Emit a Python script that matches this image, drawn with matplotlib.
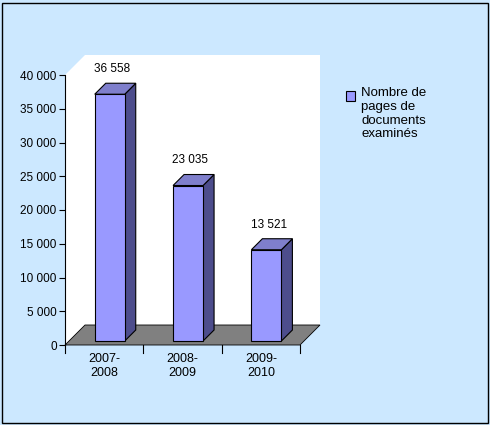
import matplotlib
matplotlib.use('Agg')
import matplotlib.pyplot as plt
from matplotlib.patches import Polygon, Rectangle

plt.rcParams['font.family'] = ['Liberation Sans', 'DejaVu Sans']

periodes = ['2007-\n2008', '2008-\n2009', '2009-\n2010']
pages = [36558, 23035, 13521]
serie = 'Nombre de\npages de\ndocuments\nexaminés'

W, H = 490, 425
fig = plt.figure(figsize=(W / 100, H / 100), dpi=100, facecolor='#CCE8FF')
fig.patches.append(Rectangle((0.004, 0.004), 0.992, 0.99, transform=fig.transFigure,
                             fill=False, edgecolor='black', linewidth=1))

# axes: x from 65 to 300 px, y from 345 (0) to 75 (40000)
ax = fig.add_axes([65 / W, (H - 345) / H, 235 / W, 270 / H])
ax.set_xlim(-0.5, 2.5)
ax.set_ylim(0, 40000)
ax.patch.set_visible(False)
for s in ax.spines.values():
    s.set_visible(False)

xpx = 3 / 235          # data units per pixel in x
ypx = 40000 / 270      # data units per pixel in y
dx, dy = 20 * xpx, 20 * ypx   # depth of the wall/floor

x0, x1 = -0.5, 2.5
wall = Polygon([(x0, 0), (x0, 40000), (x0 + dx, 40000 + dy), (x1 + dx, 40000 + dy),
                (x1 + dx, dy), (x1, 0)], closed=True, facecolor='white',
               edgecolor='none', clip_on=False, zorder=0)
ax.add_patch(wall)
floor = Polygon([(x0, 0), (x0 + dx, dy), (x1 + dx, dy), (x1, 0)], closed=True,
                facecolor='#808080', edgecolor='black', linewidth=0.6, clip_on=False, zorder=1)
ax.add_patch(floor)
ax.plot([x0, x0], [0, 40000], color='black', lw=0.8, clip_on=False, zorder=2)

bw = 30 * xpx
bx, by = 11 * xpx, 11 * ypx
ox, oy = 4 * xpx, 4 * ypx      # bars stand a little back on the floor
for i, v in enumerate(pages):
    l, r = i - bw / 2 + 0.02 + ox, i + bw / 2 + 0.02 + ox
    b, t = oy, v + oy
    kw = dict(closed=True, edgecolor='black', linewidth=0.8, clip_on=False, zorder=3)
    ax.add_patch(Polygon([(r, b), (r + bx, b + by), (r + bx, t + by), (r, t)], facecolor='#4D4D8C', **kw))
    ax.add_patch(Polygon([(l, t), (l + bx, t + by), (r + bx, t + by), (r, t)], facecolor='#7F7FCC', **kw))
    ax.add_patch(Polygon([(l, b), (r, b), (r, t), (l, t)], facecolor='#9999FF', **kw))
    ax.text(i + 0.1, t + by + 1200, f'{v:,}'.replace(',', ' '), ha='center', va='bottom', fontsize=8.5)

ax.set_yticks(range(0, 40001, 5000))
ax.set_yticklabels([f'{t:,}'.replace(',', ' ') for t in range(0, 40001, 5000)], fontsize=8.5)
ax.tick_params(axis='y', length=4, direction='out', pad=2)
ax.set_xticks(range(3))
ax.set_xticklabels(periodes, fontsize=9)
ax.tick_params(axis='x', length=0, pad=6)
for t in [-0.5, 0.5, 1.5, 2.5]:
    ax.plot([t, t], [0, -1200], color='black', lw=0.8, clip_on=False)

fig.patches.append(Rectangle((346 / W, 1 - 101 / H), 9 / W, 10 / H, transform=fig.transFigure,
                             facecolor='#9999FF', edgecolor='black', linewidth=0.8))
fig.text(361 / W, 1 - 87 / H, serie, fontsize=9.5, va='top', ha='left', linespacing=1.2)

fig.savefig('out.png', dpi=100, facecolor=fig.get_facecolor())
